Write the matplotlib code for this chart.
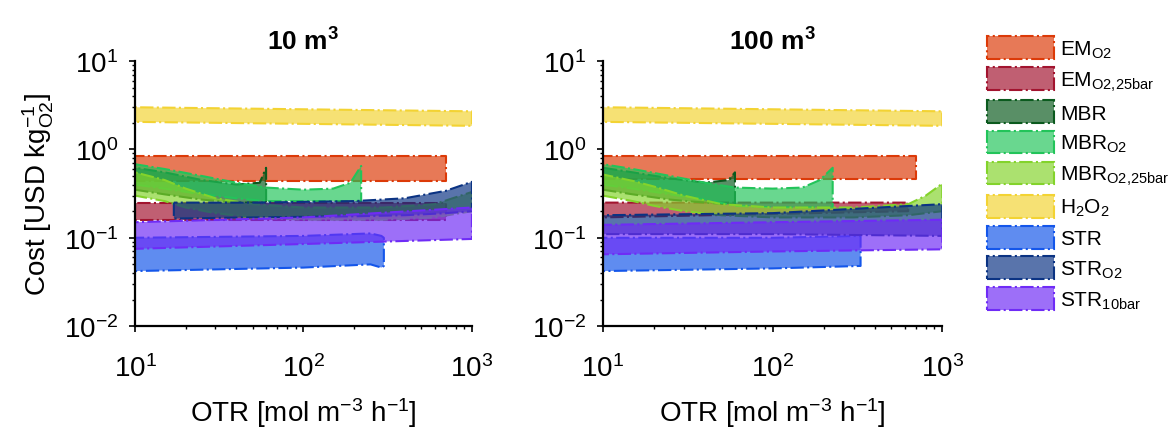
import matplotlib
matplotlib.use("Agg")
import matplotlib.pyplot as plt
import matplotlib.patches as mpatches
from matplotlib.colors import to_rgba
from matplotlib.ticker import LogLocator, NullFormatter

plt.rcParams['font.family'] = ['Liberation Sans', 'DejaVu Sans']
plt.rcParams['mathtext.fontset'] = 'custom'
plt.rcParams['mathtext.rm'] = 'Liberation Sans'
plt.rcParams['mathtext.it'] = 'Liberation Sans:italic'
plt.rcParams['mathtext.bf'] = 'Liberation Sans:bold'

# series names (legend order = drawing order)
labels = [r'EM$_{\mathrm{O2}}$', r'EM$_{\mathrm{O2{,}25bar}}$', 'MBR', r'MBR$_{\mathrm{O2}}$',
          r'MBR$_{\mathrm{O2{,}25bar}}$', r'H$_{\mathrm{2}}$O$_{\mathrm{2}}$', 'STR',
          r'STR$_{\mathrm{O2}}$', r'STR$_{\mathrm{10bar}}$']
colors = ['#DC3A08', '#A2142F', '#0B5A1E', '#22C45A', '#83D32B', '#F3D333',
          '#1456EA', '#0B3383', '#6F2BF6']
titles = [r'10 m$^{\mathbf{3}}$', r'100 m$^{\mathbf{3}}$']

# ---- 10 m3 ----
em_x_10 = [10, 700]
em_lo_10 = [0.44, 0.44]
em_hi_10 = [0.85, 0.85]
em25_x_10 = [10, 700]
em25_lo_10 = [0.16, 0.16]
em25_hi_10 = [0.25, 0.25]
mbr_x_10 = [10, 15, 25, 40, 55, 60]
mbr_lo_10 = [0.35, 0.31, 0.27, 0.25, 0.25, 0.25]
mbr_hi_10 = [0.62, 0.55, 0.45, 0.40, 0.42, 0.62]
mbro2_x_10 = [10, 15, 25, 40, 60, 100, 150, 190, 220]
mbro2_lo_10 = [0.40, 0.36, 0.31, 0.28, 0.26, 0.26, 0.26, 0.26, 0.26]
mbro2_hi_10 = [0.68, 0.60, 0.50, 0.42, 0.37, 0.35, 0.36, 0.42, 0.65]
mbr25_x_10 = [10, 15, 20, 30, 50, 100, 300, 600, 1000]
mbr25_lo_10 = [0.30, 0.26, 0.22, 0.19, 0.17, 0.16, 0.16, 0.17, 0.20]
mbr25_hi_10 = [0.55, 0.45, 0.36, 0.28, 0.24, 0.22, 0.22, 0.24, 0.33]
h2o2_x_10 = [10, 1000]
h2o2_lo_10 = [2.05, 1.85]
h2o2_hi_10 = [3.0, 2.7]
str_x_10 = [10, 100, 250, 290, 300]
str_lo_10 = [0.042, 0.046, 0.050, 0.046, 0.048]
str_hi_10 = [0.100, 0.105, 0.112, 0.105, 0.100]
stro2_x_10 = [17, 50, 200, 400, 700, 1000]
stro2_lo_10 = [0.165, 0.17, 0.175, 0.18, 0.19, 0.20]
stro2_hi_10 = [0.25, 0.25, 0.26, 0.28, 0.34, 0.43]
str10_x_10 = [10, 100, 1000]
str10_lo_10 = [0.075, 0.085, 0.097]
str10_hi_10 = [0.15, 0.17, 0.22]

# ---- 100 m3 ----
em_x_100 = [10, 700]
em_lo_100 = [0.46, 0.46]
em_hi_100 = [0.84, 0.84]
em25_x_100 = [10, 630]
em25_lo_100 = [0.17, 0.20]
em25_hi_100 = [0.25, 0.25]
mbr_x_100 = [10, 15, 25, 40, 55, 60]
mbr_lo_100 = [0.35, 0.31, 0.27, 0.25, 0.24, 0.24]
mbr_hi_100 = [0.62, 0.55, 0.47, 0.42, 0.45, 0.55]
mbro2_x_100 = [10, 15, 25, 40, 60, 100, 150, 190, 226]
mbro2_lo_100 = [0.40, 0.36, 0.31, 0.27, 0.23, 0.22, 0.22, 0.22, 0.22]
mbro2_hi_100 = [0.68, 0.60, 0.50, 0.42, 0.37, 0.36, 0.37, 0.45, 0.62]
mbr25_x_100 = [10, 15, 20, 30, 50, 100, 300, 630, 800, 1000]
mbr25_lo_100 = [0.30, 0.26, 0.23, 0.20, 0.18, 0.17, 0.17, 0.18, 0.19, 0.20]
mbr25_hi_100 = [0.52, 0.44, 0.38, 0.30, 0.24, 0.22, 0.22, 0.24, 0.30, 0.41]
h2o2_x_100 = [10, 1000]
h2o2_lo_100 = [2.05, 1.85]
h2o2_hi_100 = [3.0, 2.7]
str_x_100 = [10, 100, 330]
str_lo_100 = [0.042, 0.045, 0.048]
str_hi_100 = [0.100, 0.100, 0.105]
stro2_x_100 = [10, 100, 1000]
stro2_lo_100 = [0.11, 0.11, 0.105]
stro2_hi_100 = [0.18, 0.19, 0.24]
str10_x_100 = [10, 100, 1000]
str10_lo_100 = [0.065, 0.070, 0.074]
str10_hi_100 = [0.14, 0.15, 0.16]

panels = [
    [(em_x_10, em_lo_10, em_hi_10), (em25_x_10, em25_lo_10, em25_hi_10),
     (mbr_x_10, mbr_lo_10, mbr_hi_10), (mbro2_x_10, mbro2_lo_10, mbro2_hi_10),
     (mbr25_x_10, mbr25_lo_10, mbr25_hi_10), (h2o2_x_10, h2o2_lo_10, h2o2_hi_10),
     (str_x_10, str_lo_10, str_hi_10), (stro2_x_10, stro2_lo_10, stro2_hi_10),
     (str10_x_10, str10_lo_10, str10_hi_10)],
    [(em_x_100, em_lo_100, em_hi_100), (em25_x_100, em25_lo_100, em25_hi_100),
     (mbr_x_100, mbr_lo_100, mbr_hi_100), (mbro2_x_100, mbro2_lo_100, mbro2_hi_100),
     (mbr25_x_100, mbr25_lo_100, mbr25_hi_100), (h2o2_x_100, h2o2_lo_100, h2o2_hi_100),
     (str_x_100, str_lo_100, str_hi_100), (stro2_x_100, stro2_lo_100, stro2_hi_100),
     (str10_x_100, str10_lo_100, str10_hi_100)],
]

fig = plt.figure(figsize=(11.74, 4.31), dpi=100)
ax_pos = [[0.115, 0.241, 0.287, 0.615], [0.5136, 0.241, 0.289, 0.615]]

for k, series in enumerate(panels):
    ax = fig.add_axes(ax_pos[k])
    for (x, lo, hi), c in zip(series, colors):
        ax.fill_between(x, lo, hi, facecolor=to_rgba(c, 0.68), edgecolor=c,
                        linestyle='-.', linewidth=1.5)
    ax.set_xscale('log')
    ax.set_yscale('log')
    ax.set_xlim(10, 1000)
    ax.set_ylim(0.01, 10)
    ax.spines['top'].set_visible(False)
    ax.spines['right'].set_visible(False)
    for s in ['left', 'bottom']:
        ax.spines[s].set_linewidth(1.6)
    ax.xaxis.set_major_locator(LogLocator(base=10, numticks=10))
    ax.yaxis.set_major_locator(LogLocator(base=10, numticks=10))
    ax.xaxis.set_minor_locator(LogLocator(base=10, subs=range(2, 10), numticks=20))
    ax.yaxis.set_minor_locator(LogLocator(base=10, subs=range(2, 10), numticks=20))
    ax.xaxis.set_minor_formatter(NullFormatter())
    ax.yaxis.set_minor_formatter(NullFormatter())
    ax.tick_params(which='major', direction='out', length=4, width=1.2, labelsize=20)
    ax.tick_params(which='minor', direction='out', length=2.5, width=1)
    ax.tick_params(axis='x', which='major', pad=16)
    ax.tick_params(axis='y', which='major', pad=8)
    ax.set_title(titles[k], fontsize=19, fontweight='bold', pad=8)
    ax.set_xlabel(r'OTR [mol m$^{-3}$ h$^{-1}$]', fontsize=20, labelpad=10)
    if k == 0:
        ax.set_ylabel(r'Cost [USD kg$^{-1}_{\mathrm{O2}}$]', fontsize=20, labelpad=6)

handles = [mpatches.Patch(facecolor=to_rgba(c, 0.68), edgecolor=c, linestyle='-.',
                          linewidth=1.5, label=l) for c, l in zip(colors, labels)]
fig.legend(handles=handles, loc='upper left', bbox_to_anchor=(0.8407, 0.914),
           frameon=False, fontsize=15, handlelength=3.2, handleheight=1.3,
           labelspacing=0.36, handletextpad=0.3, borderpad=0, borderaxespad=0)

fig.savefig('out.png', dpi=100)
